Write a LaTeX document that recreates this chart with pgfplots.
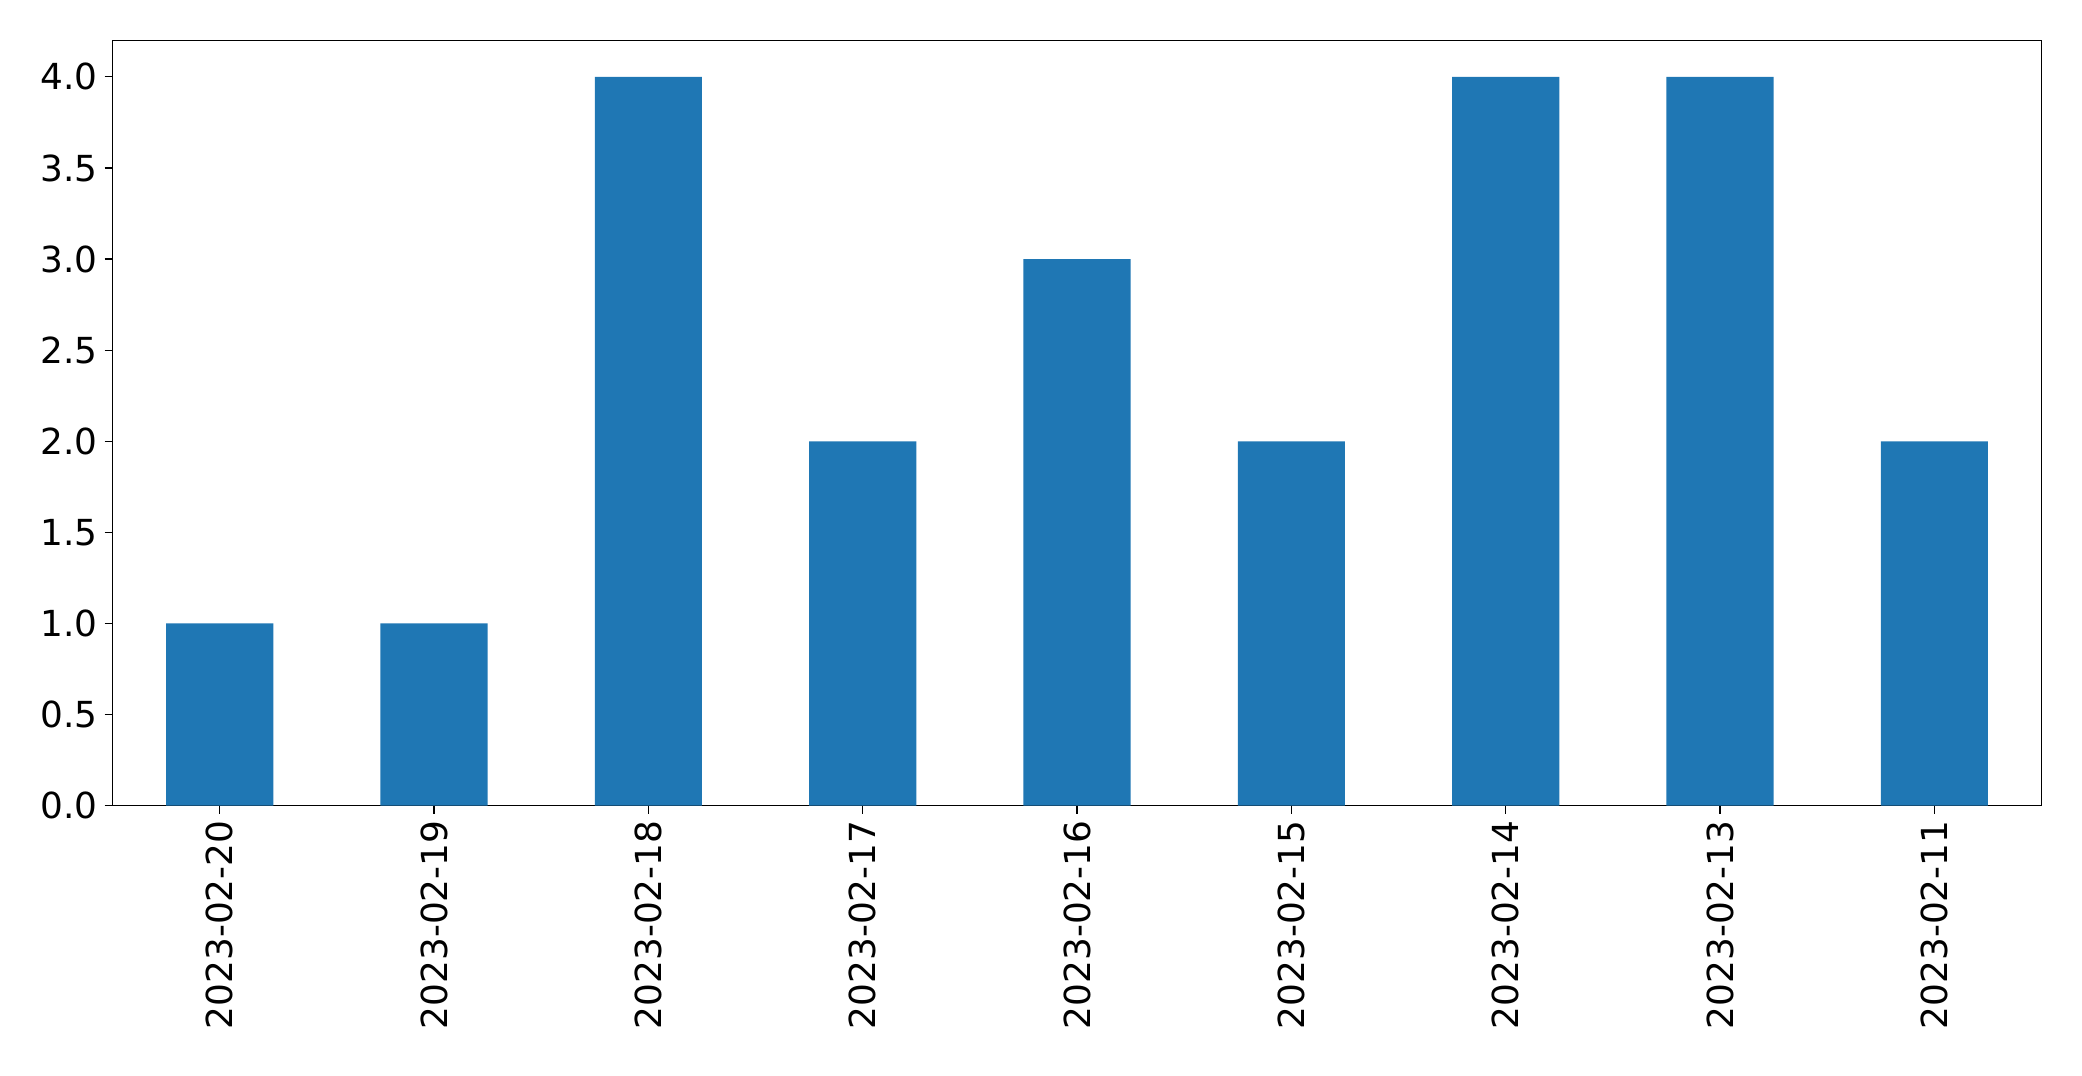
\documentclass[border=0pt]{standalone}
\usepackage{pgfplots}
\pgfplotsset{compat=1.18}
\usepackage{fontspec}
\setmainfont{DejaVu Sans}
\definecolor{barblue}{HTML}{1F77B4}
\begin{document}
\begin{tikzpicture}
\begin{axis}[
    scale only axis,
    width=968pt, height=384pt,
    ybar, bar width=0.5,
    xmin=-0.5, xmax=8.5,
    ymin=0, ymax=4.2,
    xtick=data,
    xticklabels={2023-02-20,2023-02-19,2023-02-18,2023-02-17,2023-02-16,2023-02-15,2023-02-14,2023-02-13,2023-02-11},
    xticklabel style={rotate=90, anchor=east, font=\fontsize{18}{21}\selectfont},
    ytick={0,0.5,...,4.0},
    yticklabel style={font=\fontsize{18}{21}\selectfont, /pgf/number format/.cd, fixed, fixed zerofill, precision=1},
    /pgf/number format/assume math mode=true,
    tick align=outside,
    xtick pos=bottom, ytick pos=left,
    major tick length=4pt,
    tick style={black, line width=0.6pt},
    axis line style={line width=0.6pt},
]
\addplot[fill=barblue, draw=none] coordinates {
    (0,1) (1,1) (2,4) (3,2) (4,3) (5,2) (6,4) (7,4) (8,2)
};
\end{axis}
\path ([shift={(-17pt,-20pt)}]current bounding box.south west) rectangle ([shift={(20pt,20pt)}]current bounding box.north east);
\end{tikzpicture}
\end{document}
